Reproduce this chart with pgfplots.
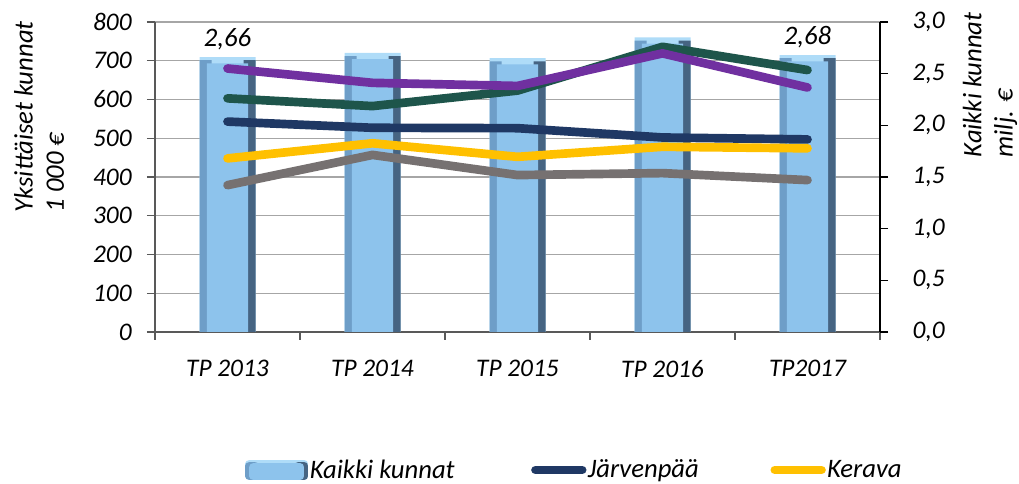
\documentclass[border=0pt]{standalone}
\usepackage{fontspec}
\setmainfont{Carlito}
\usepackage{pgfplots}
\pgfplotsset{compat=1.18}
\definecolor{barblue}{RGB}{141,195,236}
\definecolor{bartop}{RGB}{175,220,248}
\definecolor{barleft}{RGB}{110,158,200}
\definecolor{barright}{RGB}{70,100,130}
\definecolor{cnavy}{RGB}{31,56,100}
\definecolor{cyellow}{RGB}{255,192,0}
\definecolor{cgray}{RGB}{118,113,113}
\definecolor{cgreen}{RGB}{30,85,75}
\definecolor{cpurple}{RGB}{112,48,160}
\definecolor{axgray}{RGB}{89,89,89}
\definecolor{gridgray}{RGB}{166,166,166}
\newcommand{\tickfont}{\fontsize{19}{22}\selectfont\itshape}
\newcommand{\labfont}{\fontsize{20}{23.5}\selectfont\itshape}
\pgfplotsset{common/.style={scale only axis, width=543.75pt, height=232.5pt,
  xmin=-0.5, xmax=4.5, at={(0,0)}, anchor=south west, clip=false}}
\begin{document}
\begin{tikzpicture}
% grid and left axis
\begin{axis}[common, ymin=0, ymax=800,
  axis y line*=left, axis x line*=bottom,
  axis line style={-, draw=axgray, line width=1.2pt},
  ytick={0,100,...,800}, ymajorgrids, grid style={draw=gridgray, line width=1pt},
  xtick={-0.5,0.5,1.5,2.5,3.5,4.5}, x tick label as interval,
  xticklabels={TP 2013,TP 2014,TP 2015,TP 2016,TP2017},
  tick align=outside, major tick length=6pt, tick style={draw=axgray, line width=1pt},
  /pgf/number format/assume math mode=true,
  tick label style={font=\tickfont},
  yticklabel style={xshift=-8pt},
  xticklabel style={yshift=-11.5pt},
]
\addplot[draw=none] coordinates {(0,0)};
\end{axis}
% bars, right axis
\begin{axis}[common, ymin=0, ymax=3,
  axis y line*=right, axis x line=none,
  axis line style={-, draw=black, line width=1.2pt},
  ytick={0,0.5,1,1.5,2,2.5,3}, tick align=outside, major tick length=6pt,
  tick style={draw=black, line width=1pt},
  /pgf/number format/fixed, /pgf/number format/fixed zerofill,
  /pgf/number format/precision=1, /pgf/number format/use comma,
  /pgf/number format/assume math mode=true,
  tick label style={font=\tickfont},
  yticklabel style={xshift=15pt},
  ybar,
]
% Kaikki kunnat (milj. EUR): outer bar with labels
\addplot[bar width=42pt, bar shift=0pt, draw=none, fill=bartop,
  nodes near coords, point meta=explicit symbolic,
  every node near coord/.append style={font=\labfont, anchor=base, yshift=8pt, text=black}]
  table[meta=lab] {
x y lab
0 2.66 {2,66}
1 2.70 {}
2 2.65 {}
3 2.85 {}
4 2.68 {2,68}
};
% bevel edges
\addplot[bar width=9pt, bar shift=-16.5pt, draw=none, fill=barleft] coordinates {(0,2.63) (1,2.67) (2,2.62) (3,2.82) (4,2.65)};
\addplot[bar width=9pt, bar shift=16.5pt, draw=none, fill=barright] coordinates {(0,2.63) (1,2.67) (2,2.62) (3,2.82) (4,2.65)};
% face
\addplot[bar width=31pt, bar shift=0pt, draw=none, fill=barblue] coordinates {(0,2.60) (1,2.64) (2,2.59) (3,2.79) (4,2.62)};
\end{axis}
% lines
\begin{axis}[common, ymin=0, ymax=800, hide axis,
  legend columns=3,
  legend style={at={(0.124,-0.445)}, anchor=west, draw=none, fill=none,
    font=\labfont, inner sep=0pt, nodes={inner ysep=0pt, inner xsep=1pt}},
  every axis plot/.append style={line width=6.5pt, line cap=round, line join=round,
    legend image code/.code={\draw[##1] (3pt,0pt) -- (38pt,0pt);}},
]
\addlegendimage{legend image code/.code={
  \fill[bartop] (0pt,-4.5pt) rectangle (41pt,4.5pt);
  \fill[barleft] (0pt,-4.5pt) rectangle (4pt,3pt);
  \fill[barright] (37pt,-4.5pt) rectangle (41pt,3pt);
  \fill[barblue] (3pt,-4.5pt) rectangle (38pt,2pt);}}
\addplot[cnavy] coordinates {(0,543) (1,527) (2,526) (3,502) (4,497)};
\addplot[cyellow] coordinates {(0,448) (1,487) (2,452) (3,478) (4,474)};
\addplot[cgray, forget plot] coordinates {(0,379) (1,457) (2,405) (3,410) (4,392)};
\addplot[cgreen, forget plot] coordinates {(0,603) (1,583) (2,623) (3,736) (4,676)};
\addplot[cpurple, forget plot] coordinates {(0,680) (1,643) (2,635) (3,719) (4,631)};
\legend{\makebox[165pt][l]{Kaikki kunnat}, \makebox[136pt][l]{Järvenpää}, Kerava}
\end{axis}
\node[rotate=90, anchor=west, align=left, font=\labfont] at (-87pt,86.25pt) {Yksittäiset kunnat\\1 000 €};
\node[rotate=90, anchor=west, align=left, font=\labfont] at (626.25pt,127.5pt) {Kaikki kunnat\\milj. €};
\pgfresetboundingbox
\path[use as bounding box] (-116.25pt,-114pt) rectangle (648pt,249pt);
\end{tikzpicture}
\end{document}
